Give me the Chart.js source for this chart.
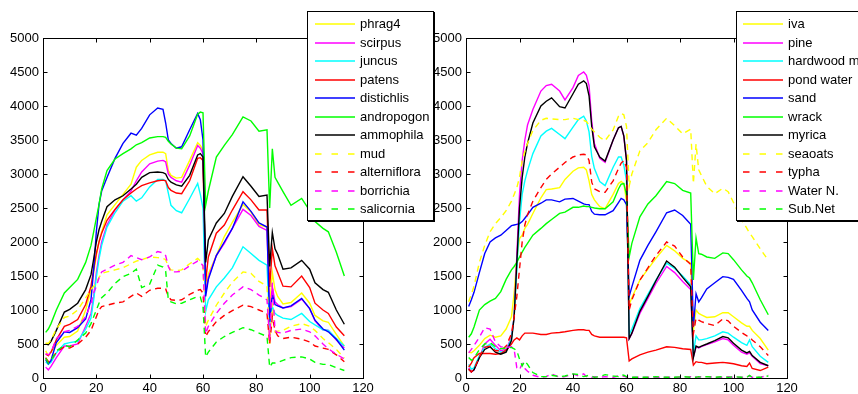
<!DOCTYPE html>
<html>
<head>
<meta charset="utf-8">
<script src="https://cdn.jsdelivr.net/npm/chart.js@4.4.1/dist/chart.umd.min.js"></script>
<style>
  html, body { margin: 0; padding: 0; background: #fff; overflow: hidden; }
  #wrap { position: relative; width: 858px; height: 394px; overflow: hidden; }
  canvas { position: absolute; left: 0; top: 0; }
  .legend { position: absolute; background: #fff; border: 1px solid #000; box-shadow: 1px 1px 0 #000;
            font: 13px "Liberation Sans", Arial, sans-serif; color: #000; }
  .legend div { position: absolute; white-space: nowrap; height: 16px; line-height: 16px; }
  .legend svg { position: absolute; }
</style>
</head>
<body>
<div id="wrap">
  <canvas id="left" width="858" height="394"></canvas>
  <div class="legend" id="legLeft" style="left:307px;top:11px;width:125px;height:208px"></div>
  <canvas id="right" width="858" height="394"></canvas>
  <div class="legend" id="legRight" style="left:736px;top:11px;width:140px;height:208px"></div>
</div>
<script>
// axis ticks
const xTicks = [0, 20, 40, 60, 80, 100, 120];
const yTicks = [0, 500, 1000, 1500, 2000, 2500, 3000, 3500, 4000, 4500, 5000];

// left panel
const xLeft = [1,2,3,5,8,10,13,16,18,19,20,21,22,24,27,30,33,35,37,40,43,45,46,47,48,50,52,55,58,59,60,61,62,65,68,71,75,78,81,84,85,86,87,88,90,93,97,100,102,105,107,110,113];
const phrag4 = [400,330,380,480,600,610,690,1000,1300,1550, 1800,2000,2150,2400,2550,2700,2850,3100,3200,3280, 3320,3320,3300,3050,2980,2940,2950,3200,3460,3420, 3350,1350,1530,1800,2080,2290,2550,2440,2250,2220, 1050,1550,1300,1200,1090,1110,1250,1100,920,840, 820,640,470];
const scirpus = [160,120,170,300,470,470,500,760,950,1200, 1550,1800,2000,2250,2470,2620,2750,2900,3030,3150, 3190,3200,3180,3000,2950,2900,2880,3130,3420,3380, 3300,1250,1480,1800,1980,2200,2480,2390,2230,2170, 950,1340,1120,1080,1030,1050,1160,1020,840,710, 700,560,440];
const juncus = [240,200,230,370,500,520,540,720,880,1150, 1480,1750,1950,2220,2430,2600,2680,2600,2650,2810, 2920,2920,2900,2720,2540,2460,2430,2640,2860,2700, 2500,980,1150,1340,1470,1620,1930,1830,1730,1660, 800,1050,950,920,880,860,950,830,780,710, 700,580,470];
const patens = [350,330,380,560,760,790,860,1080,1350,1600, 1830,2000,2130,2320,2480,2620,2720,2780,2830,2870, 2900,2910,2900,2800,2760,2720,2710,2900,3230,3240, 3200,1420,1780,2130,2250,2470,2740,2620,2470,2470, 1340,1900,1650,1550,1350,1340,1500,1330,1100,1000, 950,750,620];
const distichlis = [270,210,260,520,680,670,740,870,1150,1600, 2150,2550,2750,2950,3230,3450,3600,3570,3670,3870, 3970,3950,3750,3500,3450,3380,3400,3650,3890,3800, 3500,1200,1450,1800,2000,2200,2590,2450,2280,2220, 820,1230,1080,1060,1030,1060,1170,1020,850,720, 680,570,410];
const andropogon = [670,720,800,1000,1250,1330,1450,1700,1950,2150, 2350,2550,2780,3050,3220,3300,3370,3430,3460,3530, 3550,3550,3540,3480,3440,3380,3370,3560,3880,3910, 3900,2540,2750,3250,3420,3580,3840,3780,3630,3650, 2500,3370,2950,2880,2740,2540,2640,2460,2300,2200, 2150,1850,1500];
const ammophila = [500,490,540,700,970,1010,1100,1300,1520,1750, 2000,2180,2300,2520,2620,2680,2780,2850,2950,3020, 3030,3020,3000,2920,2880,2840,2820,2980,3280,3300, 3250,1700,2030,2280,2420,2670,2960,2820,2670,2690, 1640,2140,1900,1820,1600,1620,1730,1600,1400,1300, 1260,1000,790];
const mud = [510,510,560,720,890,910,1000,1180,1300,1350, 1400,1480,1540,1560,1590,1620,1680,1720,1740,1780, 1770,1760,1740,1640,1590,1580,1590,1680,1760,1720, 1650,760,850,1070,1250,1410,1560,1540,1420,1350, 500,1100,680,690,700,760,800,760,700,580, 520,420,290];
const alterniflora = [300,240,260,380,460,440,500,600,700,800, 900,1000,1050,1070,1100,1120,1200,1250,1200,1290, 1320,1320,1310,1200,1150,1140,1150,1230,1290,1300, 1250,610,680,830,920,990,1070,1050,1000,950, 500,900,700,620,580,600,570,530,470,440, 420,340,240];
const borrichia = [360,340,380,580,680,700,760,900,1100,1250, 1350,1470,1560,1600,1660,1700,1800,1770,1740,1780, 1860,1840,1800,1640,1560,1560,1570,1650,1720,1700, 1650,650,760,950,1100,1220,1340,1300,1220,1150, 560,1400,700,670,660,700,720,680,620,500, 430,350,280];
const salicornia = [290,220,260,400,480,460,560,660,800,900, 1000,1100,1180,1250,1390,1490,1540,1600,1330,1380, 1660,1630,1570,1150,1120,1090,1100,1150,1200,1190, 1050,310,380,530,610,670,740,710,660,610, 160,220,220,230,260,300,310,280,230,200, 200,150,110];

// right panel
const xRight = [1,2,3,5,7,9,11,13,15,17,18,19,20,21,22,23,25,28,30,32,35,37,40,42,44,45,46,47,48,50,52,55,57,58,59,60,61,62,65,68,71,75,78,81,84,85,86,87,88,90,93,96,98,100,103,105,106,107,110,113];
const iva = [380,370,400,480,580,630,600,620,720,900, 1250,1750,2050,2100,2200,2260,2420,2650,2770,2780, 2800,2920,3040,3090,3100,3060,2900,2700,2620,2520, 2490,2700,2860,2890,2860,2600,1080,1180,1440,1600, 1760,1950,1870,1760,1690,700,1000,950,930,890, 900,960,960,900,810,760,760,700,580,410];
const pine = [150,90,120,300,500,570,480,400,420,600, 900,1800,2700,3200,3500,3720,3950,4220,4300,4320, 4220,4090,4270,4450,4500,4450,4300,3780,3450,3230, 3170,3500,3680,3700,3550,3200,580,650,950,1170, 1390,1640,1550,1420,1300,310,460,440,460,490, 530,580,560,480,380,350,370,320,210,180];
const hardwood = [200,130,150,330,450,500,430,380,400,580, 900,1600,2300,2700,2900,3050,3300,3560,3630,3670, 3580,3520,3690,3800,3850,3780,3620,3260,3080,2890, 2830,3100,3250,3250,3130,2900,640,720,1020,1230, 1440,1690,1610,1500,1370,360,620,560,560,580, 620,680,660,600,520,480,560,460,320,230];
const pondWater = [160,220,300,360,360,360,350,360,410,500, 560,590,560,620,660,660,660,640,640,660, 670,680,700,710,710,700,700,640,620,600, 600,600,600,600,600,590,250,280,340,380, 410,460,450,430,420,190,240,230,230,210, 220,230,220,210,180,170,220,140,110,160];
const sand = [1050,1150,1260,1550,1830,2000,2060,2100,2170,2240, 2250,2260,2270,2300,2350,2400,2510,2570,2620,2620, 2590,2630,2640,2600,2560,2550,2550,2450,2410,2400, 2400,2460,2580,2640,2620,2550,1200,1340,1730,1950, 2150,2430,2470,2390,2260,750,1240,1120,1180,1310, 1400,1490,1480,1450,1290,1170,1120,1000,820,700];
const wrack = [600,650,750,1000,1080,1130,1170,1270,1450,1590, 1640,1700,1780,1850,1920,1980,2100,2200,2270,2330, 2420,2440,2510,2510,2530,2520,2520,2510,2500,2490, 2490,2590,2780,2850,2860,2700,1780,1980,2370,2560, 2680,2890,2860,2760,2720,1440,2060,1830,1820,1780, 1760,1840,1830,1740,1590,1500,1470,1400,1150,930];
const myrica = [130,90,120,300,420,460,380,350,380,550, 900,1700,2500,2950,3250,3450,3750,4000,4070,4120, 3990,3970,4180,4320,4370,4330,4150,3700,3400,3250, 3190,3500,3680,3700,3560,3200,580,660,980,1200, 1430,1720,1630,1480,1340,300,470,450,470,500, 550,610,590,510,410,370,390,330,230,180];
const seaoats = [1120,1230,1350,1700,1950,2150,2270,2360,2460,2600, 2700,2800,2950,3200,3330,3450,3640,3790,3820,3810, 3800,3800,3820,3800,3790,3770,3720,3660,3620,3540, 3490,3650,3850,3890,3870,3700,2820,3000,3340,3460, 3650,3820,3710,3590,3660,2860,3440,3060,2980,2820, 2710,2790,2740,2580,2330,2200,2130,2080,1900,1730];
const typha = [130,90,130,310,450,470,400,400,470,650, 900,1200,1600,2000,2250,2400,2600,2800,2920,3000, 3100,3170,3250,3280,3290,3280,3200,2880,2780,2740, 2730,2900,3080,3160,3200,3100,1000,1150,1440,1620, 1800,2000,1940,1780,1670,650,880,850,830,800, 770,870,840,760,670,620,600,560,460,330];
const waterN = [370,420,480,600,740,720,530,460,450,460, 420,150,120,210,140,100,40,10,20,60, 10,20,60,30,60,20,20,10,20,10, 20,10,30,20,30,10,10,10,10,10, 10,10,10,10,20,10,20,10,20,20, 10,10,20,10,10,20,30,10,10,40];
const subNet = [300,260,290,420,500,520,460,430,440,450, 430,400,280,180,250,200,80,20,20,40, 20,30,60,50,20,30,40,30,10,20, 50,30,20,50,40,20,0,10,10,10, 20,10,10,20,10,10,10,20,10,20, 10,20,10,20,10,10,40,10,10,30];

const colors = ['#ffff00', '#ff00ff', '#00ffff', '#ff0000', '#0000ff', '#00ff00', '#000000', '#ffff00', '#ff0000', '#ff00ff', '#00ff00'];
const dashed = [false, false, false, false, false, false, false, true, true, true, true];

const leftNames = ['phrag4', 'scirpus', 'juncus', 'patens', 'distichlis', 'andropogon', 'ammophila', 'mud', 'alterniflora', 'borrichia', 'salicornia'];
const leftSeries = [phrag4, scirpus, juncus, patens, distichlis, andropogon, ammophila, mud, alterniflora, borrichia, salicornia];
const rightNames = ['iva', 'pine', 'hardwood m', 'pond water', 'sand', 'wrack', 'myrica', 'seaoats', 'typha', 'Water N.', 'Sub.Net'];
const rightSeries = [iva, pine, hardwood, pondWater, sand, wrack, myrica, seaoats, typha, waterN, subNet];

const FONT = { family: '"Liberation Sans", Arial, sans-serif', size: 13 };

// matlab style box with inward ticks
const boxTicks = {
  id: 'boxTicks',
  afterDraw(chart) {
    const { ctx, chartArea: a, scales: { x, y } } = chart;
    const L = Math.round(a.left) + 0.5, R = Math.round(a.right) + 0.5;
    const T = Math.round(a.top) + 0.5, B = Math.round(a.bottom) + 0.5;
    ctx.save();
    ctx.strokeStyle = '#000';
    ctx.lineWidth = 1;
    ctx.strokeRect(L, T, R - L, B - T);
    ctx.beginPath();
    xTicks.forEach(v => {
      const p = Math.round(x.getPixelForValue(v)) + 0.5;
      ctx.moveTo(p, B); ctx.lineTo(p, B - 4);
      ctx.moveTo(p, T); ctx.lineTo(p, T + 4);
    });
    yTicks.forEach(v => {
      const p = Math.round(y.getPixelForValue(v)) + 0.5;
      ctx.moveTo(L, p); ctx.lineTo(L + 4, p);
      ctx.moveTo(R, p); ctx.lineTo(R - 4, p);
    });
    ctx.stroke();
    ctx.restore();
  }
};

function makeChart(id, xs, series, names, padLeft, padRight) {
  const datasets = series.map((ys, i) => ({
    label: names[i],
    data: xs.map((x, j) => ({ x: x, y: ys[j] })),
    borderColor: colors[i],
    borderWidth: 1.4,
    borderDash: dashed[i] ? [6, 4.5] : [],
    showLine: true,
    pointRadius: 0,
    tension: 0,
    order: -i
  }));
  return new Chart(document.getElementById(id), {
    type: 'scatter',
    data: { datasets },
    options: {
      responsive: false,
      animation: false,
      devicePixelRatio: 1,
      layout: { autoPadding: false, padding: { left: padLeft, right: padRight, top: 38, bottom: 0 } },
      plugins: { legend: { display: false }, tooltip: { enabled: false } },
      scales: {
        x: {
          type: 'linear', min: 0, max: 120,
          afterBuildTicks: s => { s.ticks = xTicks.map(v => ({ value: v })); },
          afterFit: s => { s.height = 16; },
          ticks: { font: FONT, color: '#000', padding: 3, maxRotation: 0, callback: v => String(v) },
          grid: { drawOnChartArea: false, drawTicks: false },
          border: { display: false }
        },
        y: {
          min: 0, max: 5000,
          afterBuildTicks: s => { s.ticks = yTicks.map(v => ({ value: v })); },
          afterFit: s => { s.width = 43; },
          ticks: { font: FONT, color: '#000', padding: 4, callback: v => String(v) },
          grid: { drawOnChartArea: false, drawTicks: false },
          border: { display: false }
        }
      }
    },
    plugins: [boxTicks]
  });
}

makeChart('left', xLeft, leftSeries, leftNames, 0, 495);
makeChart('right', xRight, rightSeries, rightNames, 423, 71);

function makeLegend(id, names, lineX, textX) {
  const box = document.getElementById(id);
  names.forEach((n, i) => {
    const cy = 12 + i * 18.5;
    const svg = document.createElementNS('http://www.w3.org/2000/svg', 'svg');
    svg.setAttribute('width', 42); svg.setAttribute('height', 4);
    svg.style.left = lineX + 'px'; svg.style.top = (cy - 2) + 'px';
    const ln = document.createElementNS('http://www.w3.org/2000/svg', 'line');
    ln.setAttribute('x1', 0); ln.setAttribute('x2', 40);
    ln.setAttribute('y1', 2); ln.setAttribute('y2', 2);
    ln.setAttribute('stroke', colors[i]); ln.setAttribute('stroke-width', 1.4);
    if (dashed[i]) ln.setAttribute('stroke-dasharray', '6.5 10');
    svg.appendChild(ln);
    box.appendChild(svg);
    const t = document.createElement('div');
    t.textContent = n;
    t.style.left = textX + 'px';
    t.style.top = (cy - 8) + 'px';
    box.appendChild(t);
  });
}
makeLegend('legLeft', leftNames, 7, 52);
makeLegend('legRight', rightNames, 6, 51);
</script>
</body>
</html>
